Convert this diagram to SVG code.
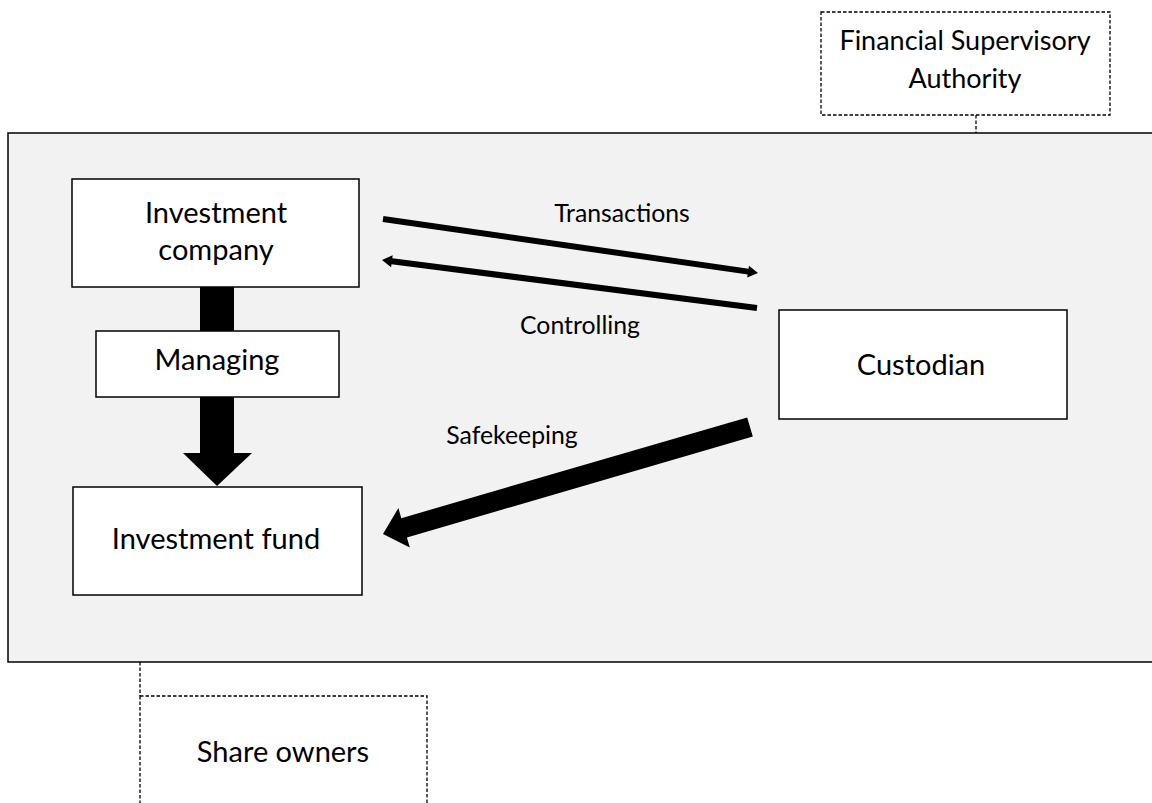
<svg xmlns="http://www.w3.org/2000/svg" width="1152" height="803" viewBox="0 0 1152 803">
  <style>
    .box { fill: #ffffff; stroke: #000000; stroke-width: 1.5; }
    .dash { fill: #ffffff; stroke: #000000; stroke-width: 1.3; stroke-dasharray: 3.5 2; }
    .dline { fill: none; stroke: #000000; stroke-width: 1.3; stroke-dasharray: 3.5 2; }
    .big { font-family: Lato, "Liberation Sans", sans-serif; font-size: 29px; fill: #000000; text-anchor: middle; }
    .fsa { font-size: 27px; }
    .small { font-family: Lato, "Liberation Sans", sans-serif; font-size: 24.8px; fill: #000000; text-anchor: middle; }
    .shaft { stroke: #000000; fill: none; }
    .head { fill: #000000; }
  </style>

  <rect width="1152" height="803" fill="#ffffff"/>

  <!-- system boundary -->
  <rect id="system" x="8" y="133" width="1160" height="529" fill="#f2f2f2" stroke="#000000" stroke-width="1.5"/>

  <!-- connectors -->
  <g id="connectors">
    <line class="dline" x1="976" y1="115" x2="976" y2="133"/>
    <line class="dline" x1="140" y1="662" x2="140" y2="696"/>
    <!-- Managing: company to fund -->
    <rect x="200" y="287" width="34" height="167" fill="#000000"/>
    <polygon class="head" points="183,453 252,453 217,486"/>
    <!-- Transactions -->
    <line class="shaft" stroke-width="6" x1="383" y1="219" x2="750" y2="271.9"/>
    <polygon class="head" points="747.2,277.5 758,273 749,265.7"/>
    <!-- Controlling -->
    <line class="shaft" stroke-width="6" x1="757" y1="308" x2="390" y2="261"/>
    <polygon class="head" points="392.7,255.3 382,260 391.1,267.3"/>
    <!-- Safekeeping -->
    <polygon class="head" points="747.2,417.4 401.3,518.2 398.4,508.1 383,534 409.8,547.5 406.9,537.4 752.8,436.6"/>
  </g>

  <g id="fsa">
    <rect class="dash" x="821" y="12" width="289" height="103"/>
    <text class="big fsa" x="965" y="50">Financial Supervisory</text>
    <text class="big fsa" x="965" y="88">Authority</text>
  </g>

  <g id="investment-company">
    <rect class="box" x="72" y="179" width="287" height="108"/>
    <text class="big" x="216" y="223">Investment</text>
    <text class="big" x="216" y="260">company</text>
  </g>

  <g id="managing">
    <rect class="box" x="96" y="331" width="243" height="66"/>
    <text class="big" x="217" y="370">Managing</text>
  </g>

  <g id="investment-fund">
    <rect class="box" x="73" y="487" width="289" height="108"/>
    <text class="big" x="216" y="549">Investment fund</text>
  </g>

  <g id="custodian">
    <rect class="box" x="779" y="310" width="288" height="109"/>
    <text class="big" x="921" y="375">Custodian</text>
  </g>

  <g id="share-owners">
    <rect class="dash" x="140" y="696" width="287" height="130"/>
    <text class="big" x="283" y="762">Share owners</text>
  </g>

  <g id="labels">
    <text class="small" x="622" y="222">Transactions</text>
    <text class="small" x="580" y="334">Controlling</text>
    <text class="small" x="512" y="444">Safekeeping</text>
  </g>
</svg>
